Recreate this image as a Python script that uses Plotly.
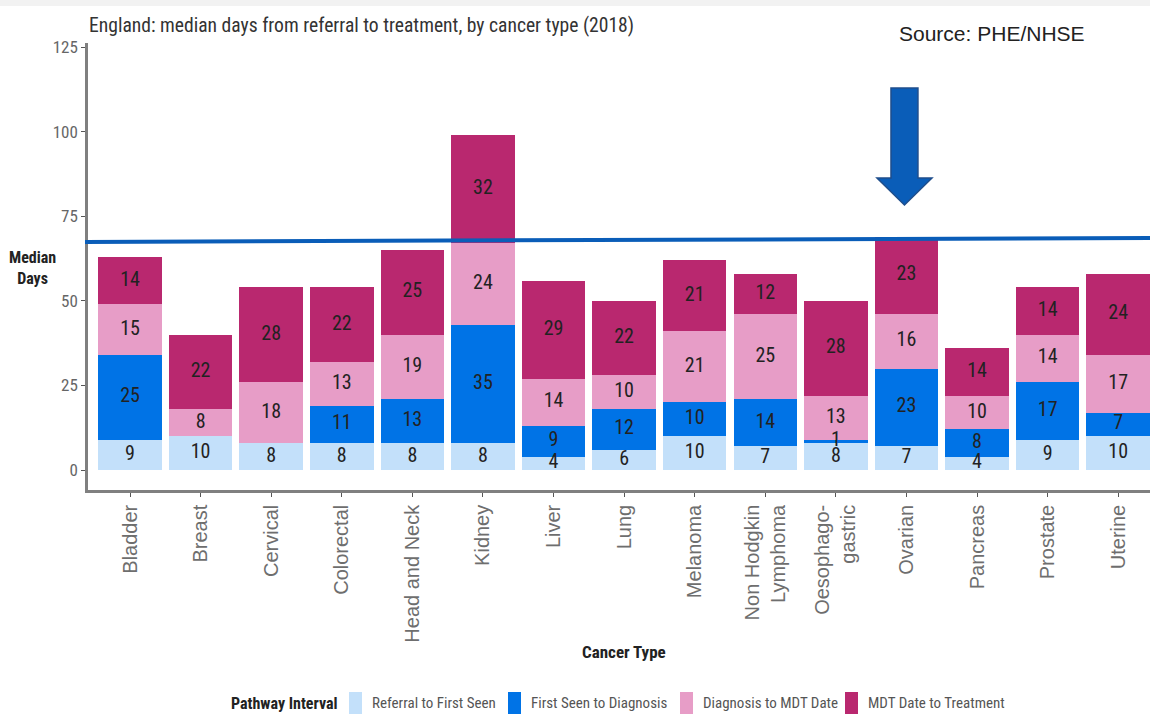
import plotly.graph_objects as go

categories = ["Bladder", "Breast", "Cervical", "Colorectal", "Head and Neck", "Kidney",
              "Liver", "Lung", "Melanoma", "Non Hodgkin<br>Lymphoma", "Oesophago-<br>gastric",
              "Ovarian", "Pancreas", "Prostate", "Uterine"]

referral_to_first_seen = [9, 10, 8, 8, 8, 8, 4, 6, 10, 7, 8, 7, 4, 9, 10]
first_seen_to_diagnosis = [25, 0, 0, 11, 13, 35, 9, 12, 10, 14, 1, 23, 8, 17, 7]
diagnosis_to_mdt = [15, 8, 18, 13, 19, 24, 14, 10, 21, 25, 13, 16, 10, 14, 17]
mdt_to_treatment = [14, 22, 28, 22, 25, 32, 29, 22, 21, 12, 28, 23, 14, 14, 24]

series_names = ["Referral to First Seen", "First Seen to Diagnosis",
                "Diagnosis to MDT Date", "MDT Date to Treatment"]
series_values = [referral_to_first_seen, first_seen_to_diagnosis, diagnosis_to_mdt, mdt_to_treatment]
colors = ["#C3E0FA", "#0073E6", "#E79DC7", "#B9286F"]

target_line = [67.4, 68.6]

NARROW = "Liberation Sans Narrow, Arial Narrow, Roboto Condensed, sans-serif"
REGULAR = "Liberation Sans, Arial, sans-serif"

fig = go.Figure()
x_idx = list(range(len(categories)))
for name, vals, col in zip(series_names, series_values, colors):
    fig.add_trace(go.Bar(x=x_idx, y=vals, name=name, marker=dict(color=col, line=dict(width=0)),
                         width=0.9, hoverinfo="skip", showlegend=False))

# labels at segment midpoints
lx, ly, lt = [], [], []
base = [0] * len(categories)
for vals in series_values:
    for i, v in enumerate(vals):
        if v > 0:
            lx.append(i)
            ly.append(base[i] + v / 2)
            lt.append(str(v))
        base[i] += v
fig.add_trace(go.Scatter(x=lx, y=ly, text=lt, mode="text", showlegend=False, hoverinfo="skip",
                         textfont=dict(family=NARROW, size=20, color="#222222")))

def px_x(p):
    return (p - 88) / 1062

def px_y(p):
    return (490 - p) / 447

arrow = [(891, 88), (918, 88), (918, 178), (932, 178), (904.5, 205), (877, 178), (891, 178)]
path = "M " + " L ".join(f"{px_x(a):.4f},{px_y(b):.4f}" for a, b in arrow) + " Z"

shapes = [
    dict(type="line", xref="paper", yref="y", x0=px_x(85), x1=1, y0=target_line[0], y1=target_line[1],
         line=dict(color="#0A5DB8", width=4)),
    dict(type="path", xref="paper", yref="paper", path=path, fillcolor="#0A5DB8",
         line=dict(color="#1F4E8C", width=1.5)),
    dict(type="rect", xref="paper", yref="paper", x0=px_x(0), x1=1, y0=px_y(0), y1=px_y(6),
         fillcolor="#F2F2F2", line=dict(width=0), layer="below"),
]

annotations = [
    dict(text="England: median days from referral to treatment, by cancer type (2018)",
         xref="paper", yref="paper", x=px_x(87), y=px_y(25), xanchor="left", yanchor="middle",
         showarrow=False, font=dict(family=NARROW, size=19.6, color="#333333")),
    dict(text="Source: PHE/NHSE", xref="paper", yref="paper", x=px_x(897), y=px_y(33),
         xanchor="left", yanchor="middle", showarrow=False,
         font=dict(family=REGULAR, size=21, color="#222222")),
    dict(text="<b>Median<br>Days</b>", xref="paper", yref="paper", x=px_x(32), y=px_y(268),
         xanchor="center", yanchor="middle", showarrow=False,
         font=dict(family=NARROW, size=16, color="#222222")),
    dict(text="<b>Cancer Type</b>", xref="paper", yref="paper", x=px_x(624), y=px_y(652),
         xanchor="center", yanchor="middle", showarrow=False,
         font=dict(family=NARROW, size=17, color="#222222")),
    dict(text="<b>Pathway Interval</b>", xref="paper", yref="paper", x=px_x(229), y=px_y(703),
         xanchor="left", yanchor="middle", showarrow=False,
         font=dict(family=NARROW, size=16, color="#222222")),
]

# legend (key) drawn as swatches + labels
swatch_left = [349, 508, 680, 845]
for name, col, sx in zip(series_names, colors, swatch_left):
    shapes.append(dict(type="rect", xref="paper", yref="paper", x0=px_x(sx), x1=px_x(sx + 13),
                       y0=px_y(692), y1=px_y(714), fillcolor=col, line=dict(width=0)))
    annotations.append(dict(text=name, xref="paper", yref="paper", x=px_x(sx + 21), y=px_y(703),
                            xanchor="left", yanchor="middle", showarrow=False,
                            font=dict(family=NARROW, size=15, color="#555555")))

fig.update_layout(
    width=1150, height=716,
    margin=dict(l=88, r=0, t=43, b=226),
    barmode="stack", bargap=0.1,
    plot_bgcolor="white", paper_bgcolor="white",
    font=dict(family=NARROW, color="#4D4D4D"),
    showlegend=False,
    xaxis=dict(range=[-0.595, 14.45], tickmode="array", tickvals=x_idx, ticktext=categories,
               tickangle=-90, tickfont=dict(family=REGULAR, size=20, color="#6E6E6E"), showline=True,
               linecolor="#808080", linewidth=2.5, ticks="outside", ticklen=4, tickcolor="#555555",
               showgrid=False, zeroline=False, fixedrange=True),
    yaxis=dict(range=[-5.9, 126.2], tickvals=[0, 25, 50, 75, 100, 125],
               tickfont=dict(size=17, color="#666666"), showline=True, linecolor="#808080",
               linewidth=2.5, ticks="outside", ticklen=4, tickcolor="#555555",
               showgrid=False, zeroline=False),
    shapes=shapes,
    annotations=annotations,
)

fig.write_html("out.html")
